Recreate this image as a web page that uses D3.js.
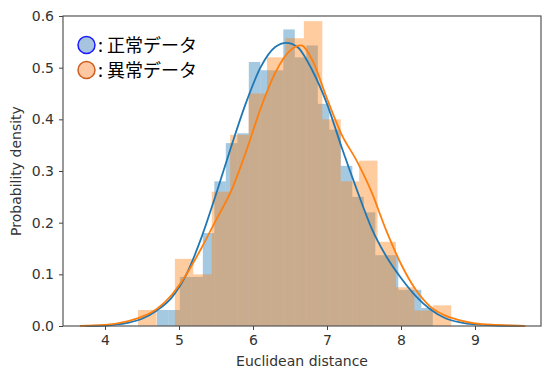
<!DOCTYPE html>
<html>
<head>
<meta charset="utf-8">
<script src="https://cdn.jsdelivr.net/npm/d3@7"></script>
<style>
  body { margin: 0; background: #fff; }
  .axis text { font-family: "DejaVu Sans", sans-serif; font-size: 14px; fill: #333; }
  .axis path, .axis line { stroke: #444; }
  .label { font-family: "DejaVu Sans", sans-serif; font-size: 14px; fill: #333; }
  .legend text { font-family: "Noto Sans CJK JP", sans-serif; font-size: 18px; fill: #000; }
</style>
</head>
<body>
<div id="chart"></div>
<script>
// histogram bins (density per bin)
const normalBinStart = 4.70;
const normalBinWidth = 0.1554;
const normalHist = [0.031, 0.031, 0.095, 0.095, 0.18, 0.28, 0.354, 0.373, 0.511, 0.495, 0.495, 0.574,
  0.52, 0.543, 0.43, 0.38, 0.31, 0.25, 0.22, 0.137, 0.137, 0.07, 0.07, 0.035];
const anomalyBinStart = 4.446;
const anomalyBinWidth = 0.249;
const anomalyHist = [0.031, 0.0, 0.13, 0.10, 0.26, 0.37, 0.45, 0.52, 0.557, 0.59,
  0.40, 0.28, 0.32, 0.163, 0.075, 0.03, 0.04];

// kde curves
const normalKdeX = [3.73, 4.0, 4.3, 4.5, 4.7, 4.9, 5.1, 5.3, 5.5, 5.7, 5.9, 6.1, 6.3, 6.45,
  6.6, 6.8, 7.0, 7.2, 7.4, 7.6, 7.8, 8.0, 8.2, 8.4, 8.6, 8.8, 9.0, 9.3, 9.65];
const normalKdeY = [0.0, 0.001, 0.006, 0.014, 0.03, 0.055, 0.10, 0.17, 0.255, 0.345, 0.43, 0.50, 0.54, 0.548,
  0.54, 0.495, 0.43, 0.345, 0.265, 0.19, 0.135, 0.093, 0.058, 0.032, 0.015, 0.007, 0.003, 0.001, 0.0];
const anomalyKdeX = [3.66, 4.0, 4.3, 4.5, 4.7, 4.9, 5.1, 5.3, 5.5, 5.7, 5.9, 6.1, 6.3, 6.5,
  6.65, 6.8, 7.0, 7.2, 7.4, 7.6, 7.8, 8.0, 8.2, 8.4, 8.6, 8.8, 9.0, 9.3, 9.68];
const anomalyKdeY = [0.0, 0.002, 0.009, 0.018, 0.033, 0.06, 0.10, 0.15, 0.205, 0.26, 0.335, 0.42, 0.49, 0.533,
  0.543, 0.515, 0.44, 0.37, 0.32, 0.26, 0.185, 0.12, 0.07, 0.037, 0.02, 0.011, 0.005, 0.002, 0.0];

const xTicks = [4, 5, 6, 7, 8, 9];
const yTicks = [0.0, 0.1, 0.2, 0.3, 0.4, 0.5, 0.6];
const legendLabels = ['正常データ', '異常データ'];

const width = 542;
const height = 371;
const margin = { top: 16, right: 1, bottom: 45, left: 63 };

const svg = d3.select('#chart')
  .append('svg')
  .attr('width', width)
  .attr('height', height);

const x = d3.scaleLinear()
  .domain([3.432, 9.892])
  .range([margin.left, width - margin.right]);
const y = d3.scaleLinear()
  .domain([0, 0.6])
  .range([height - margin.bottom, margin.top]);

function binRects(start, w, values) {
  return values.map((v, i) => ({ x0: start + i * w, x1: start + (i + 1) * w, v }));
}

const series = [
  { bins: binRects(normalBinStart, normalBinWidth, normalHist), color: '#1f77b4',
    kx: normalKdeX, ky: normalKdeY },
  { bins: binRects(anomalyBinStart, anomalyBinWidth, anomalyHist), color: '#ff7f0e',
    kx: anomalyKdeX, ky: anomalyKdeY }
];

const line = d3.line()
  .x(d => x(d[0]))
  .y(d => y(d[1]))
  .curve(d3.curveMonotoneX);

series.forEach(s => {
  svg.append('g')
    .selectAll('rect')
    .data(s.bins)
    .enter()
    .append('rect')
    .attr('x', d => x(d.x0))
    .attr('width', d => x(d.x1) - x(d.x0))
    .attr('y', d => y(d.v))
    .attr('height', d => y(0) - y(d.v))
    .style('fill', s.color)
    .style('fill-opacity', 0.4);
});

series.forEach(s => {
  svg.append('path')
    .datum(s.kx.map((v, i) => [v, s.ky[i]]))
    .attr('d', line)
    .style('fill', 'none')
    .style('stroke', s.color)
    .style('stroke-width', 1.8);
});

// frame
svg.append('rect')
  .attr('x', margin.left)
  .attr('y', margin.top)
  .attr('width', width - margin.right - margin.left)
  .attr('height', height - margin.bottom - margin.top)
  .style('fill', 'none')
  .style('stroke', '#555')
  .style('stroke-width', 1.2);

svg.append('g')
  .attr('class', 'axis')
  .attr('transform', `translate(0,${height - margin.bottom})`)
  .call(d3.axisBottom(x).tickValues(xTicks).tickSize(4).tickPadding(5).tickFormat(d3.format('d')))
  .call(g => g.select('.domain').remove());

svg.append('g')
  .attr('class', 'axis')
  .attr('transform', `translate(${margin.left},0)`)
  .call(d3.axisLeft(y).tickValues(yTicks).tickSize(4).tickPadding(5).tickFormat(d3.format('.1f')))
  .call(g => g.select('.domain').remove());

svg.append('text')
  .attr('class', 'label')
  .attr('x', (margin.left + width - margin.right) / 2)
  .attr('y', 366)
  .style('text-anchor', 'middle')
  .text('Euclidean distance');

svg.append('text')
  .attr('class', 'label')
  .attr('transform', `translate(21,${(margin.top + height - margin.bottom) / 2}) rotate(-90)`)
  .style('text-anchor', 'middle')
  .text('Probability density');

const legend = svg.append('g').attr('class', 'legend');
const legendFill = ['#a6c4dd', '#fdc8a2'];
const legendStroke = ['#1a1aff', '#cc5f1e'];
legendLabels.forEach((t, i) => {
  legend.append('circle')
    .attr('cx', 86.5)
    .attr('cy', 45 + i * 25)
    .attr('r', 8.5)
    .style('fill', legendFill[i])
    .style('stroke', legendStroke[i])
    .style('stroke-width', 1.5);
  legend.append('text')
    .attr('x', 98)
    .attr('y', 52 + i * 25)
    .text(':');
  legend.append('text')
    .attr('x', 107)
    .attr('y', 52 + i * 25)
    .text(t);
});
</script>
</body>
</html>
